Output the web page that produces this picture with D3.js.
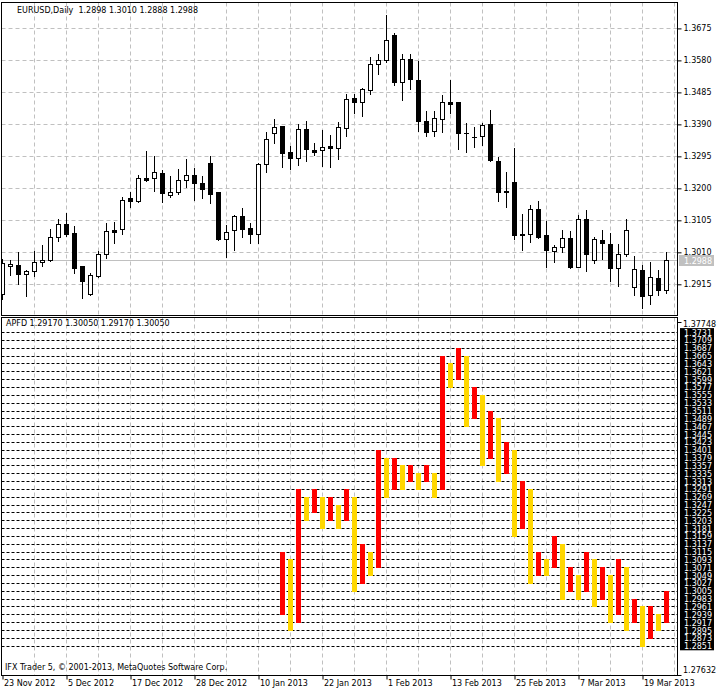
<!DOCTYPE html>
<html><head><meta charset="utf-8">
<script src="https://cdn.jsdelivr.net/npm/d3@7/dist/d3.min.js"></script>
<style>
html,body{margin:0;padding:0;background:#fff;}
svg{display:block;font-family:"DejaVu Sans",sans-serif;font-size:8px;}
text{white-space:pre;}
</style></head><body>
<svg id="c" width="725" height="697"></svg>
<script>
// ---------- DATA ----------
const symbolTitle = "EURUSD,Daily  1.2898 1.3010 1.2888 1.2988";
const indicatorTitle = "APFD 1.29170 1.30050 1.29170 1.30050";
const copyright = "IFX Trader 5, \u00A9 2001-2013, MetaQuotes Software Corp.";

const open  = [1.2885,1.2968,1.2971,1.2945,1.2954,1.2980,1.2986,1.3055,1.3093,1.3066,1.2968,1.2887,1.2939,1.3004,1.3075,1.3078,1.3170,1.3163,1.3230,1.3230,1.3245,1.3179,1.3188,1.3224,1.3240,1.3216,1.3274,1.3188,1.3050,1.3075,1.3118,1.3082,1.3065,1.3271,1.3363,1.3384,1.3307,1.3289,1.3376,1.3314,1.3313,1.3326,1.3319,1.3379,1.3468,1.3455,1.3491,1.3568,1.3580,1.3656,1.3515,1.3583,1.3521,1.3399,1.3369,1.3406,1.3455,1.3455,1.3364,1.3353,1.3354,1.3390,1.3280,1.3191,1.3218,1.3063,1.3063,1.3138,1.3061,1.3014,1.3025,1.3052,1.2967,1.3109,1.2986,1.3047,1.3035,1.2963,1.3006,1.2906,1.2957,1.2883,1.2934,1.2898];
const high  = [1.2990,1.2987,1.3010,1.2957,1.3015,1.3031,1.3078,1.3108,1.3126,1.3087,1.2970,1.2949,1.3013,1.3096,1.3099,1.3174,1.3188,1.3240,1.3312,1.3296,1.3254,1.3236,1.3257,1.3287,1.3260,1.3236,1.3297,1.3190,1.3091,1.3121,1.3142,1.3096,1.3274,1.3366,1.3406,1.3386,1.3326,1.3391,1.3399,1.3335,1.3373,1.3358,1.3397,1.3480,1.3480,1.3497,1.3591,1.3598,1.3714,1.3660,1.3600,1.3599,1.3579,1.3430,1.3429,1.3477,1.3522,1.3456,1.3394,1.3383,1.3394,1.3433,1.3294,1.3248,1.3321,1.3124,1.3150,1.3162,1.3103,1.3032,1.3076,1.3073,1.3121,1.3136,1.3055,1.3076,1.3067,1.3035,1.3109,1.2999,1.2972,1.2981,1.2957,1.3010];
const low   = [1.2870,1.2943,1.2916,1.2881,1.2941,1.2968,1.2983,1.3044,1.3059,1.2949,1.2875,1.2884,1.2937,1.2994,1.3039,1.3065,1.3145,1.3158,1.3223,1.3191,1.3160,1.3173,1.3183,1.3203,1.3166,1.3172,1.3157,1.3047,1.2997,1.3017,1.3055,1.3039,1.3038,1.3249,1.3335,1.3264,1.3257,1.3270,1.3282,1.3299,1.3267,1.3264,1.3286,1.3354,1.3425,1.3414,1.3481,1.3540,1.3574,1.3506,1.3461,1.3496,1.3371,1.3356,1.3356,1.3366,1.3425,1.3316,1.3307,1.3322,1.3330,1.3281,1.3163,1.3145,1.3050,1.3018,1.3042,1.3052,1.2966,1.2982,1.3010,1.2963,1.2965,1.2955,1.2979,1.2990,1.2926,1.2910,1.3000,1.2882,1.2846,1.2857,1.2882,1.2888];
const close = [1.2977,1.2974,1.2945,1.2954,1.2980,1.2986,1.3055,1.3093,1.3065,1.2964,1.2926,1.2942,1.3004,1.3072,1.3071,1.3164,1.3163,1.3230,1.3226,1.3248,1.3187,1.3188,1.3224,1.3240,1.3217,1.3197,1.3184,1.3050,1.3069,1.3117,1.3080,1.3065,1.3271,1.3346,1.3382,1.3306,1.3291,1.3376,1.3318,1.3309,1.3323,1.3320,1.3382,1.3465,1.3457,1.3494,1.3568,1.3580,1.3640,1.3515,1.3583,1.3524,1.3399,1.3366,1.3408,1.3455,1.3451,1.3363,1.3363,1.3352,1.3389,1.3283,1.3190,1.3190,1.3062,1.3062,1.3138,1.3055,1.3018,1.3026,1.3052,1.2966,1.3108,1.3006,1.3049,1.3037,1.2963,1.3004,1.3075,1.2960,1.2881,1.2937,1.2899,1.2988];
const lastPrice = 1.2988;

const priceTicks = [1.2915,1.3010,1.3105,1.3200,1.3295,1.3390,1.3485,1.3580,1.3675];
const dateIdx    = [0,8,16,24,32,40,48,56,64,72,80];
const dateLabels = ["23 Nov 2012","5 Dec 2012","17 Dec 2012","28 Dec 2012","10 Jan 2013","22 Jan 2013","1 Feb 2013","13 Feb 2013","25 Feb 2013","7 Mar 2013","19 Mar 2013"];

// APFD indicator (bars start at candle index 35)
const apfdStart = 35;
const apfdLo = [1.2939,1.2895,1.2917,1.3203,1.3225,1.3181,1.3203,1.3181,1.3203,1.3005,1.3027,1.3049,1.3071,1.3269,1.3291,1.3291,1.3313,1.3291,1.3313,1.3269,1.3291,1.3577,1.3599,1.3467,1.3489,1.3357,1.3379,1.3313,1.3335,1.3159,1.3181,1.3027,1.3049,1.3049,1.3071,1.2983,1.3005,1.2983,1.3005,1.2961,1.2983,1.2917,1.2939,1.2895,1.2917,1.2851,1.2873,1.2895,1.2917];
const apfdHi = [1.3115,1.3093,1.3291,1.3269,1.3291,1.3269,1.3269,1.3247,1.3291,1.3269,1.3137,1.3115,1.3401,1.3379,1.3379,1.3357,1.3357,1.3335,1.3357,1.3335,1.3665,1.3643,1.3687,1.3665,1.3577,1.3555,1.3511,1.3489,1.3423,1.3401,1.3313,1.3291,1.3115,1.3093,1.3159,1.3137,1.3071,1.3049,1.3115,1.3093,1.3071,1.3049,1.3093,1.3071,1.2983,1.2961,1.2961,1.2939,1.3005];
const apfdType = ["r","y","r","y","r","y","r","y","r","y","r","y","r","y","r","y","r","y","r","y","r","y","r","y","r","y","r","y","r","y","r","y","r","y","r","y","r","y","r","y","r","y","r","y","r","y","r","y","r"];
const levels = [1.3731,1.3709,1.3687,1.3665,1.3643,1.3621,1.3599,1.3577,1.3555,1.3533,1.3511,1.3489,1.3467,1.3445,1.3423,1.3401,1.3379,1.3357,1.3335,1.3313,1.3291,1.3269,1.3247,1.3225,1.3203,1.3181,1.3159,1.3137,1.3115,1.3093,1.3071,1.3049,1.3027,1.3005,1.2983,1.2961,1.2939,1.2917,1.2895,1.2873,1.2851];
const botMax = "1.37748", botMin = "1.27632";

// ---------- LAYOUT ----------
const L = 1.5, R = 677.5, T1 = 2.5, B1 = 315.5, T2 = 317.5, B2 = 675.5;
const svg = d3.select("#c");
const x = d3.scaleLinear().domain([0, 83]).range([2.5, 666.5]);
const yTop = d3.scaleLinear().domain([1.2915, 1.3675]).range([284.3, 28.4]);
const yBot = d3.scaleLinear().domain([1.2851, 1.3731]).range([645.7, 332.1]);
const px = v => Math.round(v) + 0.5;

const defs = svg.append("defs");
defs.append("clipPath").attr("id","cp1").append("rect").attr("x",L).attr("y",T1).attr("width",R-L).attr("height",B1-T1);
defs.append("clipPath").attr("id","cp2").append("rect").attr("x",L).attr("y",T2).attr("width",R-L).attr("height",B2-T2);

const gridX = d3.range(4, 85, 4); // grid every 4 bars

// ---- top panel ----
const p1 = svg.append("g").attr("clip-path","url(#cp1)");
p1.selectAll("line.gx").data(gridX).join("line")
  .attr("x1", d => x(d)).attr("x2", d => x(d)).attr("y1", T1).attr("y2", B1)
  .attr("stroke","#c0c0c0").attr("stroke-dasharray","4,3");
p1.selectAll("line.gy").data(priceTicks).join("line")
  .attr("x1", L).attr("x2", R).attr("y1", d => px(yTop(d))).attr("y2", d => px(yTop(d)))
  .attr("stroke","#c0c0c0").attr("stroke-dasharray","4,3");
p1.append("line").attr("x1",L).attr("x2",R).attr("y1",px(yTop(lastPrice))).attr("y2",px(yTop(lastPrice)))
  .attr("stroke","#c0c0c0");

const candles = open.map((o,i)=>({i, o, h:high[i], l:low[i], c:close[i]}));
const cg = p1.selectAll("g.candle").data(candles).join("g");
cg.append("line").attr("x1", d=>x(d.i)).attr("x2", d=>x(d.i))
  .attr("y1", d=>Math.round(yTop(d.h))).attr("y2", d=>Math.round(yTop(d.l))+1).attr("stroke","#000");
cg.each(function(d){
  const g = d3.select(this);
  const t = px(yTop(Math.max(d.o,d.c))), b = px(yTop(Math.min(d.o,d.c)));
  if (b - t < 1) {
    g.append("line").attr("x1", x(d.i)-2.5).attr("x2", x(d.i)+2.5).attr("y1", t).attr("y2", t).attr("stroke","#000");
  } else {
    g.append("rect").attr("x", x(d.i)-2).attr("width",4).attr("y",t).attr("height",b-t)
      .attr("fill", d.c >= d.o ? "#fff" : "#000").attr("stroke","#000");
  }
});

// ---- bottom panel ----
const p2 = svg.append("g").attr("clip-path","url(#cp2)");
p2.selectAll("line.gx").data(gridX).join("line")
  .attr("x1", d => x(d)).attr("x2", d => x(d)).attr("y1", T2).attr("y2", B2)
  .attr("stroke","#c0c0c0").attr("stroke-dasharray","4,3");
p2.selectAll("line.lv").data(levels).join("line")
  .attr("x1", L).attr("x2", R).attr("y1", d => px(yBot(d))).attr("y2", d => px(yBot(d)))
  .attr("stroke","#000").attr("stroke-dasharray","3,2");
const bars = apfdLo.map((lo,i)=>({i: apfdStart+i, lo, hi: apfdHi[i], t: apfdType[i]}));
p2.selectAll("rect.bar").data(bars).join("rect")
  .attr("x", d => x(d.i)-2.5).attr("width",5)
  .attr("y", d => Math.round(yBot(d.hi))).attr("height", d => Math.round(yBot(d.lo)) - Math.round(yBot(d.hi)) + 1)
  .attr("fill", d => d.t === "r" ? "#ff0000" : "#ffd700");

// ---- frames ----
svg.append("rect").attr("x",L).attr("y",T1).attr("width",R-L).attr("height",B1-T1).attr("fill","none").attr("stroke","#000");
svg.append("rect").attr("x",L).attr("y",T2).attr("width",R-L).attr("height",B2-T2).attr("fill","none").attr("stroke","#000");

// ---- right axis top panel ----
const ax1 = svg.append("g").attr("transform",`translate(${R},0)`)
  .call(d3.axisRight(yTop).tickValues(priceTicks).tickSize(4).tickFormat(d3.format(".4f")));
ax1.select(".domain").remove();
ax1.attr("font-family",null).attr("font-size",null);
ax1.selectAll("text").attr("x",6).attr("fill","#000");

// last price label
const lpy = px(yTop(lastPrice));
svg.append("rect").attr("x",679).attr("y",lpy-5.5).attr("width",35).attr("height",11).attr("fill","#c0c0c0");
svg.append("text").attr("x",684).attr("y",lpy+3).attr("fill","#fff").text(d3.format(".4f")(lastPrice));

// ---- right labels bottom panel ----
const lg = svg.append("g");
lg.selectAll("rect").data(levels).join("rect")
  .attr("x",680).attr("width",34).attr("y", d => yBot(d)-4).attr("height",8.6).attr("fill","#000");
lg.selectAll("text").data(levels).join("text")
  .attr("x",684).attr("y", d => yBot(d)+3.5).attr("fill","#fff").text(d => d3.format(".4f")(d));
svg.append("line").attr("x1",R).attr("x2",R+4).attr("y1",322.5).attr("y2",322.5).attr("stroke","#000");
svg.append("text").attr("x",683).attr("y",327).text(botMax);
svg.append("line").attr("x1",R).attr("x2",R+4).attr("y1",B2).attr("y2",B2).attr("stroke","#000");
svg.append("text").attr("x",683).attr("y",673).text(botMin);

// ---- bottom date axis ----
const ax2 = svg.append("g").attr("transform",`translate(0,${B2})`)
  .call(d3.axisBottom(x).tickValues(dateIdx).tickSize(4).tickFormat((d,i)=>dateLabels[i]));
ax2.select(".domain").remove();
ax2.attr("font-family",null).attr("font-size",null);
ax2.selectAll("text").attr("text-anchor","start").attr("x",1).attr("y",5).attr("dy","0.71em").attr("fill","#000");

// ---- titles ----
svg.append("text").attr("x",17).attr("y",13).text(symbolTitle);
svg.append("text").attr("x",6).attr("y",326).text(indicatorTitle);
svg.append("text").attr("x",5).attr("y",670).text(copyright);
</script>
</body></html>
